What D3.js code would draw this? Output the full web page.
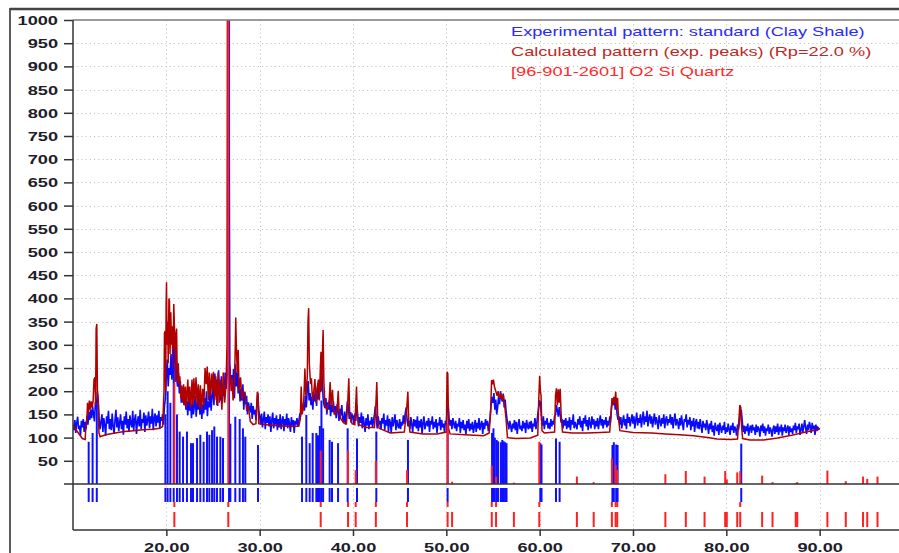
<!DOCTYPE html>
<html><head><meta charset="utf-8">
<script src="https://cdn.jsdelivr.net/npm/d3@7"></script>
<style>
html,body{margin:0;padding:0;background:#fff;overflow:hidden}
svg{display:block}
text{font-family:"Liberation Sans",Arial,sans-serif}
</style></head><body>
<svg id="c" width="899" height="553"></svg>
<script>
// ---------- DATA ----------
// Experimental pattern (2theta grid start / step, intensities, one row per degree)
const expStart = 10.0, expStep = 0.1;
const expIntensity = [
128,116,138,110,132,145,118,126,104,136,
122,140,112,134,118,148,128,155,138,160,
142,168,150,135,176,160,198,182,140,118,
134,150,112,142,126,104,146,130,158,118,
140,116,152,124,108,138,160,122,144,114,
132,150,118,136,106,146,128,156,120,140,
112,148,130,122,158,116,138,150,108,134,
146,124,160,118,140,132,154,112,148,126,
138,156,120,146,130,162,116,142,152,124,
148,132,158,120,144,136,150,128,168,185,
232,268,210,250,235,280,225,255,305,260,
272,230,210,240,195,222,175,205,188,170,
192,160,178,148,196,158,172,142,184,150,
168,190,145,176,160,198,150,182,140,172,
152,185,160,200,146,178,165,205,158,190,
212,170,238,190,225,168,245,200,180,232,
175,215,190,240,205,230,250,1010,260,215,
235,200,248,185,258,210,240,195,225,178,
205,180,215,160,198,172,190,150,176,162,
158,175,140,168,150,160,138,172,195,160,
146,128,152,122,140,156,118,144,132,150,
124,146,112,138,154,120,142,128,148,116,
140,122,150,118,136,146,114,140,126,152,
120,142,130,112,144,126,138,110,136,128,
142,124,136,150,148,170,162,176,158,190,
165,205,222,180,196,170,188,160,200,178,
192,168,210,182,220,198,252,230,185,170,
164,185,150,176,160,182,146,170,155,178,
150,168,142,172,158,136,162,148,170,140,
134,156,128,150,178,168,140,155,132,150,
146,128,152,136,170,150,124,144,132,154,
120,146,130,112,142,126,150,118,136,128,
144,122,138,150,168,140,120,146,128,136,
118,142,130,152,116,138,126,148,112,140,
132,110,144,124,136,150,116,138,126,120,
140,118,134,126,148,130,152,165,138,124,
136,118,144,128,112,140,124,138,120,146,
114,136,122,140,108,132,146,118,128,136,
124,142,112,136,128,146,118,134,122,140,
110,132,126,144,116,138,122,130,112,136,
128,165,172,140,126,138,118,142,130,120,
136,114,130,124,142,110,134,120,138,116,
128,106,136,120,140,114,130,118,134,110,
124,138,112,132,120,142,116,128,136,108,
132,118,140,126,136,114,128,145,170,188,
175,196,160,182,150,165,190,172,200,185,
178,195,165,182,158,140,130,118,136,124,
112,130,120,138,116,134,108,128,140,118,
126,114,136,120,132,110,138,124,118,134,
120,136,112,130,124,142,118,132,150,165,
180,172,140,126,146,118,136,128,142,120,
132,118,140,124,136,128,146,150,170,158,
145,166,150,132,140,120,138,126,142,118,
136,122,144,116,138,128,150,120,134,126,
118,140,128,146,122,136,114,142,130,148,
124,138,116,144,130,120,146,128,140,118,
136,124,142,118,134,148,126,140,120,138,
128,144,122,136,126,142,138,165,182,170,
186,160,175,150,138,146,128,144,120,136,
148,126,140,118,152,132,144,124,138,150,
130,146,120,138,154,126,142,132,150,122,
140,156,128,146,134,158,124,142,150,130,
146,122,138,152,128,144,134,118,148,136,
124,142,130,150,120,138,146,126,140,132,
150,128,144,120,138,152,126,140,132,118,
142,126,148,130,116,140,134,150,122,138,
128,144,116,136,124,142,112,132,140,120,
134,118,140,126,110,136,122,130,116,138,
124,108,130,118,136,112,126,104,132,120,
114,128,106,132,120,110,126,116,134,108,
122,112,130,118,106,126,116,132,110,124,
118,104,128,116,132,150,160,138,112,126,
108,124,114,130,104,120,126,110,128,116,
122,106,128,112,124,118,102,126,114,130,
110,124,104,120,114,128,108,122,116,102,
118,126,108,124,112,130,106,120,116,128,
104,122,114,128,110,118,126,106,124,112,
120,108,126,116,132,110,124,118,130,106,
116,130,112,124,138,120,108,128,116,134,
124,110,132,118,126,106,128,114,122,120,
118
];

// Calculated pattern [2theta, intensity]
const calcPattern = [
[10.0,126],[10.5,112],[11.0,98],[11.3,96],[11.4,130],[11.5,140],[11.55,175],[11.65,150],[11.75,180],[11.85,160],
[11.95,178],[12.05,165],[12.15,178],[12.25,225],[12.35,230],[12.42,170],[12.48,335],[12.55,345],[12.62,200],[12.7,180],
[12.78,110],[12.9,102],[13.5,106],[14.5,110],[15.5,113],[16.5,115],[17.5,117],[18.5,118],[19.3,120],[19.6,124],
[19.75,200],[19.8,325],[19.88,330],[19.93,200],[19.98,390],[20.02,435],[20.08,300],[20.15,350],[20.2,260],[20.28,400],
[20.34,395],[20.4,280],[20.48,370],[20.55,300],[20.62,340],[20.7,250],[20.8,388],[20.88,330],[20.95,220],[21.02,320],
[21.1,335],[21.18,220],[21.28,260],[21.35,215],[21.45,232],[21.55,185],[21.65,212],[21.75,175],[21.85,215],[21.95,170],
[22.05,210],[22.15,165],[22.3,225],[22.4,175],[22.5,210],[22.62,165],[22.75,225],[22.85,170],[22.95,228],[23.05,180],
[23.18,230],[23.3,170],[23.42,215],[23.55,165],[23.65,213],[23.78,160],[23.9,205],[24.02,170],[24.15,250],[24.28,215],
[24.38,253],[24.5,180],[24.6,240],[24.72,190],[24.85,238],[24.95,200],[25.05,242],[25.18,180],[25.3,232],[25.42,170],
[25.55,240],[25.68,175],[25.8,225],[25.95,160],[26.1,240],[26.25,175],[26.4,215],[26.5,300],[26.54,1000],[26.6,1000],
[26.64,260],[26.8,253],[26.95,200],[27.05,230],[27.15,180],[27.3,215],[27.38,290],[27.44,359],[27.5,300],[27.6,240],
[27.7,289],[27.8,200],[27.95,230],[28.1,180],[28.25,200],[28.45,195],[28.6,160],[28.8,165],[29.0,135],[29.3,128],
[29.6,130],[29.75,199],[29.82,195],[29.9,130],[30.5,128],[31.5,126],[32.5,125],[33.5,124],[34.2,125],[34.35,140],
[34.45,210],[34.55,150],[34.7,165],[34.85,249],[34.95,190],[35.1,230],[35.18,350],[35.25,379],[35.32,260],[35.45,215],
[35.55,228],[35.65,180],[35.8,200],[35.92,226],[36.05,175],[36.18,210],[36.3,225],[36.4,180],[36.5,250],[36.57,285],
[36.65,200],[36.75,300],[36.8,332],[36.88,220],[37.0,170],[37.2,160],[37.45,180],[37.55,220],[37.65,170],[37.8,203],
[37.92,160],[38.1,150],[38.3,160],[38.42,201],[38.5,160],[38.7,140],[39.0,132],[39.3,130],[39.45,180],[39.55,228],
[39.65,150],[39.9,130],[40.2,128],[40.38,210],[40.46,150],[40.6,128],[41.5,122],[42.3,122],[42.45,170],[42.55,220],
[42.65,140],[42.8,120],[44.0,110],[45.5,112],[45.75,160],[45.88,199],[45.97,140],[46.1,112],[47.5,108],[49.0,108],
[50.0,112],[50.08,242],[50.16,238],[50.24,120],[50.4,108],[52.0,106],[54.0,104],[54.6,110],[54.75,160],[54.85,224],
[54.95,215],[55.05,225],[55.15,210],[55.3,200],[55.45,190],[55.55,200],[55.7,185],[55.85,195],[56.0,180],[56.1,192],
[56.25,170],[56.4,140],[56.55,100],[57.5,98],[59.0,99],[59.8,105],[59.9,180],[60.0,233],[60.08,200],[60.15,190],
[60.25,115],[60.5,110],[61.6,112],[61.7,190],[61.8,206],[61.9,170],[62.0,204],[62.1,175],[62.2,205],[62.3,150],
[62.45,112],[63.5,110],[65.0,110],[66.5,111],[67.5,112],[67.65,150],[67.75,185],[67.85,170],[67.95,188],[68.05,175],
[68.15,199],[68.25,160],[68.35,186],[68.45,140],[68.6,115],[70.0,111],[72.0,110],[73.5,108],[75.0,106],[76.5,104],
[78.0,100],[79.0,97],[80.5,96],[81.2,97],[81.35,140],[81.45,170],[81.55,165],[81.65,120],[81.75,98],[82.5,95],
[84.0,95],[85.5,99],[87.0,105],[88.5,112],[90.0,118]
];

// Experimental peak list (blue sticks)
const expPeakPos = [11.68,12.1,12.55,19.9,20.14,20.43,20.79,21.14,21.43,21.79,22.21,22.64,22.86,23.29,23.64,24.0,24.36,24.61,24.9,25.14,25.43,25.79,26.07,26.72,26.86,27.39,27.86,28.21,28.46,29.82,
34.54,35.0,35.36,35.68,36.07,36.25,36.45,36.62,36.8,37.5,37.75,38.4,39.43,40.43,42.5,45.89,50.14,
54.9,55.05,55.2,55.4,55.55,55.85,56.0,56.15,56.3,56.45,60.07,60.2,61.75,62.14,67.8,67.95,68.2,68.35,81.6];
const expPeakInt = [91,110,170,150,200,175,290,150,113,102,113,88,88,99,106,91,113,106,116,124,102,102,99,1000,130,145,140,120,102,84,
102,149,88,110,110,105,125,180,120,95,91,88,120,98,113,95,130,
110,120,100,95,92,90,95,92,90,88,88,85,98,91,84,90,85,84,87];

// Reference peaks: [96-901-2601] Quartz (red sticks)
const refPeakPos = [20.86,26.64,36.54,39.47,40.29,42.45,45.79,50.14,50.62,54.87,55.33,57.24,59.96,63.99,65.79,67.74,68.14,68.31,
73.47,75.66,77.67,79.88,80.05,81.17,81.49,83.84,84.95,87.44,87.6,90.83,92.8,94.65,95.1,96.2];
const refPeakInt = [218,1000,72,72,30,50,30,130,5,40,16,3,91,16,4,55,41,30,
21,28,16,28,10,25,28,18,4,2,4,29,6,16,11,16];
const refMatched = [1,1,1,1,1,1,1,1,0,1,1,0,1,0,0,1,1,1, 0,0,0,0,0,0,1,0,0,0,0,0,0,0,0,0];

const yTicks = [50,100,150,200,250,300,350,400,450,500,550,600,650,700,750,800,850,900,950,1000];
const xTicks = [20,30,40,50,60,70,80,90];
const legendLabels = ["Experimental pattern: standard (Clay Shale)",
                      "Calculated pattern (exp. peaks) (Rp=22.0 %)",
                      "[96-901-2601] O2 Si Quartz"];
const legendColors = ["#2a2aff","#c0281e","#ff2a2a"];

// ---------- DRAW ----------
const svg = d3.select("#c");
const L = 73, T = 20, B = 530, R = 899;
const x = d3.scaleLinear().domain([10, 100]).range([L, L + 90 * 9.333]);
const y = d3.scaleLinear().domain([0, 1000]).range([484, T]);
const SX = 1.4;

svg.append("rect").attr("width",899).attr("height",553).attr("fill","#fff");

// outer frame
svg.append("line").attr("x1",10).attr("x2",10).attr("y1",8).attr("y2",553).attr("stroke","#333").attr("stroke-width",1.6);
svg.append("line").attr("x1",10).attr("x2",899).attr("y1",9).attr("y2",9).attr("stroke","#444").attr("stroke-width",2.4);

// grid
const grid = svg.append("g").attr("stroke","#c4c4c4").attr("stroke-width",1).attr("stroke-dasharray","1.2,3");
grid.selectAll(".gy").data(yTicks.filter(v => v < 1000)).join("line")
  .attr("x1",L).attr("x2",R).attr("y1",d => Math.round(y(d))+0.5).attr("y2",d => Math.round(y(d))+0.5);
grid.selectAll(".gx").data(xTicks).join("line")
  .attr("x1",d => Math.round(x(d))+0.5).attr("x2",d => Math.round(x(d))+0.5).attr("y1",T).attr("y2",B);

// clip
svg.append("clipPath").attr("id","clip").append("rect").attr("x",L).attr("y",T).attr("width",R-L).attr("height",y(0)-T);
const plot = svg.append("g").attr("clip-path","url(#clip)");

// experimental pattern
const expData = expIntensity.map((v,i) => [expStart + i*expStep, v]);
const line = d3.line().x(d => x(d[0])).y(d => y(d[1]));
plot.append("path").datum(expData).attr("d",line).attr("fill","none").attr("stroke","#0a0aff").attr("stroke-width",1.6).attr("stroke-linejoin","miter");
// calculated pattern
plot.append("path").datum(calcPattern).attr("d",line).attr("fill","none").attr("stroke","#b00000").attr("stroke-width",1.5);

// experimental peak sticks
plot.selectAll(".es").data(expPeakPos).join("line")
  .attr("x1",d => x(d)).attr("x2",d => x(d)).attr("y1",y(0)).attr("y2",(d,i) => y(expPeakInt[i]))
  .attr("stroke","#1010ff").attr("stroke-width",2);
// reference sticks
plot.selectAll(".rs").data(refPeakPos).join("line")
  .attr("x1",d => x(d)).attr("x2",d => x(d)).attr("y1",y(0)).attr("y2",(d,i) => y(refPeakInt[i]))
  .attr("stroke","#ff2020").attr("stroke-width",2);

// marker rows below zero
svg.selectAll(".em").data(expPeakPos).join("line")
  .attr("x1",d => x(d)).attr("x2",d => x(d)).attr("y1",488).attr("y2",502)
  .attr("stroke","#1010ff").attr("stroke-width",2);
svg.selectAll(".rm").data(refPeakPos).join("line")
  .attr("x1",d => x(d)).attr("x2",d => x(d)).attr("y1",512).attr("y2",527)
  .attr("stroke","#ff2020").attr("stroke-width",2);
svg.selectAll(".rc").data(refPeakPos.filter((d,i) => refMatched[i])).join("line")
  .attr("x1",d => x(d)).attr("x2",d => x(d)).attr("y1",502).attr("y2",507)
  .attr("stroke","#ff2020").attr("stroke-width",2);

// frame lines
svg.append("line").attr("x1",L).attr("x2",R).attr("y1",T).attr("y2",T).attr("stroke","#7a7a7a").attr("stroke-width",1.5);
svg.append("line").attr("x1",64).attr("x2",R).attr("y1",484).attr("y2",484).attr("stroke","#333").attr("stroke-width",1.5);
svg.append("line").attr("x1",L).attr("x2",R).attr("y1",B).attr("y2",B).attr("stroke","#333").attr("stroke-width",1.5);

// axes
const yAxis = d3.axisLeft(y).tickValues(yTicks).tickSize(9).tickSizeOuter(0).tickFormat(d3.format("d"));
const gy = svg.append("g").attr("transform",`translate(${L},0)`).call(yAxis);
gy.select(".domain").remove();
gy.append("line").attr("x1",0).attr("x2",0).attr("y1",T).attr("y2",B).attr("stroke","#333").attr("stroke-width",1.5);
gy.selectAll(".tick line").attr("stroke","#333").attr("stroke-width",1.5);
gy.selectAll(".tick text").attr("x",null).attr("dy",null)
  .attr("transform",`translate(-15,4.5) scale(${SX},1)`)
  .attr("text-anchor","end").attr("fill","#1e1e2a")
  .style("font-family","'Liberation Sans',Arial,sans-serif").style("font-size","13px").style("font-weight","bold");

const xAxis = d3.axisBottom(x).tickValues(xTicks).tickSize(6).tickSizeOuter(0).tickFormat(d3.format(".2f"));
const gx = svg.append("g").attr("transform",`translate(0,${B})`).call(xAxis);
gx.select(".domain").remove();
gx.selectAll(".tick line").attr("stroke","#333").attr("stroke-width",1.5);
gx.selectAll(".tick text").attr("y",null).attr("dy",null)
  .attr("transform",`translate(0,22) scale(${SX},1)`)
  .attr("text-anchor","middle").attr("fill","#1e1e2a")
  .style("font-family","'Liberation Sans',Arial,sans-serif").style("font-size","13px").style("font-weight","bold");

// legend
svg.selectAll(".lg").data(legendLabels).join("text")
  .attr("transform",(d,i) => `translate(511,${35.5 + i*20.2}) scale(${SX},1)`)
  .attr("fill",(d,i) => legendColors[i])
  .style("font-size","13px")
  .text(d => d);
</script>
</body></html>
